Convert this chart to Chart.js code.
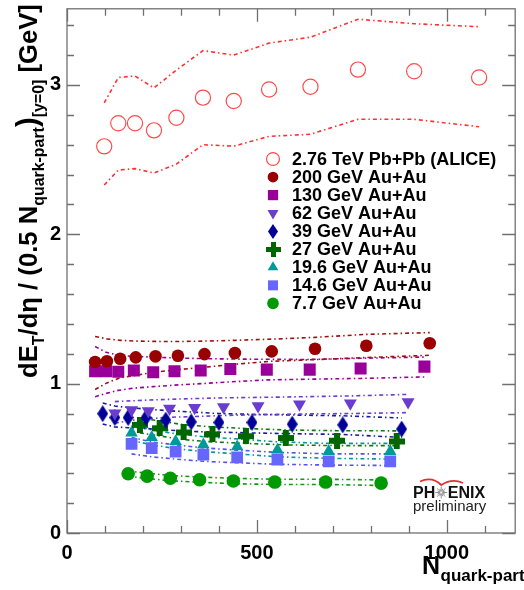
<!DOCTYPE html>
<html>
<head>
<meta charset="utf-8">
<script src="https://cdn.jsdelivr.net/npm/chart.js@4.4.1/dist/chart.umd.min.js"></script>
<style>
  html, body { margin: 0; padding: 0; background: #fff; }
  canvas { display: block; }
</style>
</head>
<body>
<canvas id="c" width="524" height="590"></canvas>
<script>
// Transverse energy per constituent-quark participant pair vs N_quark-part

// 2.76 TeV Pb+Pb (ALICE)
const aliceN  = [98, 135, 179, 229, 288, 358, 439, 532, 641, 766, 914, 1085];
const aliceE  = [2.589, 2.744, 2.744, 2.696, 2.78, 2.915, 2.893, 2.97, 2.988, 3.103, 3.092, 3.05];
const aliceHi = [2.88, 3.05, 3.06, 2.98, 3.10, 3.23, 3.20, 3.28, 3.32, 3.44, 3.41, 3.39];
const aliceLo = [2.33, 2.43, 2.44, 2.41, 2.47, 2.60, 2.59, 2.656, 2.67, 2.77, 2.77, 2.72];

// 200 GeV Au+Au
const n200  = [74, 105, 140, 181, 233, 292, 362, 442, 539, 653, 788, 955];
const e200  = [1.145, 1.15, 1.167, 1.176, 1.183, 1.187, 1.198, 1.205, 1.216, 1.234, 1.254, 1.271];
const hi200 = [1.316, 1.30, 1.29, 1.285, 1.283, 1.282, 1.285, 1.29, 1.298, 1.31, 1.33, 1.342];
const lo200 = [0.961, 1.005, 1.039, 1.056, 1.078, 1.094, 1.11, 1.13, 1.15, 1.161, 1.175, 1.19];

// 130 GeV Au+Au
const n130  = [74, 103, 135, 176, 227, 283, 352, 430, 526, 639, 773, 941];
const e130  = [1.083, 1.083, 1.079, 1.088, 1.076, 1.083, 1.088, 1.098, 1.094, 1.094, 1.101, 1.114];
const hi130 = [1.249, 1.21, 1.19, 1.182, 1.178, 1.172, 1.168, 1.165, 1.163, 1.162, 1.17, 1.178];
const lo130 = [0.912, 0.935, 0.955, 0.97, 0.98, 0.99, 1.0, 1.012, 1.025, 1.03, 1.035, 1.045];

// 62 GeV Au+Au
const n62  = [126, 170, 214, 270, 336, 412, 503, 612, 746, 898];
const e62  = [0.802, 0.824, 0.817, 0.833, 0.839, 0.844, 0.850, 0.862, 0.868, 0.877];
const hi62 = [0.88, 0.885, 0.89, 0.895, 0.90, 0.905, 0.908, 0.912, 0.918, 0.928];
const lo62 = [0.735, 0.755, 0.765, 0.775, 0.78, 0.787, 0.792, 0.797, 0.80, 0.806];

// 39 GeV Au+Au
const n39  = [94, 126, 161, 208, 260, 327, 400, 487, 593, 726, 881];
const e39  = [0.799, 0.773, 0.773, 0.773, 0.756, 0.744, 0.740, 0.740, 0.729, 0.724, 0.696];
const hi39 = [0.87, 0.85, 0.84, 0.83, 0.82, 0.81, 0.80, 0.795, 0.79, 0.785, 0.77];
const lo39 = [0.73, 0.71, 0.705, 0.70, 0.69, 0.68, 0.675, 0.67, 0.665, 0.66, 0.64];

// 27 GeV Au+Au
const n27  = [192, 244, 307, 383, 471, 576, 711, 868];
const e27  = [0.724, 0.701, 0.673, 0.660, 0.648, 0.636, 0.618, 0.613];
const hi27 = [0.77, 0.75, 0.725, 0.71, 0.70, 0.69, 0.685, 0.684];
const lo27 = [0.67, 0.65, 0.625, 0.61, 0.60, 0.59, 0.585, 0.585];

// 19.6 GeV Au+Au
const n19  = [170, 223, 286, 359, 448, 554, 689, 851];
const e19  = [0.671, 0.640, 0.613, 0.591, 0.578, 0.556, 0.547, 0.547];
const hi19 = [0.72, 0.69, 0.665, 0.645, 0.63, 0.61, 0.60, 0.60];
const lo19 = [0.62, 0.59, 0.565, 0.545, 0.53, 0.51, 0.50, 0.495];

// 14.6 GeV Au+Au
const n14  = [170, 223, 286, 359, 448, 554, 689, 851];
const e14  = [0.596, 0.569, 0.545, 0.525, 0.507, 0.492, 0.480, 0.480];
const hi14 = [0.64, 0.61, 0.59, 0.57, 0.555, 0.54, 0.53, 0.53];
const lo14 = [0.53, 0.51, 0.495, 0.48, 0.47, 0.46, 0.455, 0.452];

// 7.7 GeV Au+Au
const n7  = [161, 211, 272, 349, 438, 547, 681, 827];
const e7  = [0.397, 0.381, 0.367, 0.357, 0.348, 0.341, 0.341, 0.334];
const hi7 = [0.415, 0.40, 0.385, 0.375, 0.366, 0.36, 0.36, 0.355];
const lo7 = [0.38, 0.365, 0.35, 0.34, 0.33, 0.325, 0.325, 0.318];

// Axis tick labels
const xTickValues = [0, 500, 1000];
const yTickValues = [0, 1, 2, 3];

const FONT = '"Liberation Sans", Arial, Helvetica, sans-serif';

// Marker images for the thick plus and the tall diamond
function plusImage(color, size, bar) {
  const c = document.createElement('canvas');
  c.width = size; c.height = size;
  const g = c.getContext('2d');
  g.fillStyle = color;
  const o = (size - bar) / 2;
  g.fillRect(o, 0, bar, size);
  g.fillRect(0, o, size, bar);
  return c;
}
function diamondImage(color, w, h) {
  const c = document.createElement('canvas');
  c.width = w; c.height = h;
  const g = c.getContext('2d');
  g.fillStyle = color;
  g.beginPath();
  g.moveTo(w / 2, 0); g.lineTo(w, h / 2); g.lineTo(w / 2, h); g.lineTo(0, h / 2);
  g.closePath(); g.fill();
  return c;
}

const series = [
  { label: '2.76 TeV Pb+Pb (ALICE)', n: aliceN, e: aliceE, hi: aliceHi, lo: aliceLo,
    color: '#ff4a4a', band: '#ff3030', style: 'circle', radius: 7.6, open: true },
  { label: '200 GeV Au+Au', n: n200, e: e200, hi: hi200, lo: lo200,
    color: '#990000', band: '#a01010', style: 'circle', radius: 6.3 },
  { label: '130 GeV Au+Au', n: n130, e: e130, hi: hi130, lo: lo130,
    color: '#990099', band: '#990099', style: 'rect', radius: 8.5 },
  { label: '62 GeV Au+Au', n: n62, e: e62, hi: hi62, lo: lo62,
    color: '#6a3ccf', band: '#6a3ccf', style: 'triangle', rotation: 180, radius: 7.5 },
  { label: '39 GeV Au+Au', n: n39, e: e39, hi: hi39, lo: lo39,
    color: '#000099', band: '#1a1aa0', style: diamondImage('#000099', 11, 17), legendStyle: diamondImage('#000099', 10, 15) },
  { label: '27 GeV Au+Au', n: n27, e: e27, hi: hi27, lo: lo27,
    color: '#006600', band: '#117711', style: plusImage('#006600', 16, 6), legendStyle: plusImage('#006600', 15, 5) },
  { label: '19.6 GeV Au+Au', n: n19, e: e19, hi: hi19, lo: lo19,
    color: '#009999', band: '#009999', style: 'triangle', rotation: 0, radius: 7.2 },
  { label: '14.6 GeV Au+Au', n: n14, e: e14, hi: hi14, lo: lo14,
    color: '#6666ff', band: '#5555ee', style: 'rect', radius: 8.3 },
  { label: '7.7 GeV Au+Au', n: n7, e: e7, hi: hi7, lo: lo7,
    color: '#009900', band: '#119911', style: 'circle', radius: 6.8 }
];

const datasets = [];
series.forEach(s => {
  const pts = s.n.map((x, i) => ({ x: x, y: s.e[i] }));
  datasets.push({
    label: s.label,
    data: pts,
    showLine: false,
    pointStyle: s.style,
    rotation: s.rotation || 0,
    pointRadius: s.radius || 8,
    backgroundColor: s.open ? 'rgba(0,0,0,0)' : s.color,
    borderColor: s.color,
    borderWidth: s.open ? 1.2 : 0,
    order: 0
  });
  [s.hi, s.lo].forEach(arr => {
    datasets.push({
      label: s.label + ' sys',
      data: s.n.map((x, i) => ({ x: x, y: arr[i] })),
      showLine: true,
      pointRadius: 0,
      borderColor: s.band,
      borderWidth: 1.6,
      borderDash: [4, 3, 1.5, 3],
      tension: 0,
      fill: false,
      order: 5
    });
  });
});

function drawLegendMarker(ctx, s, x, y) {
  const st = s.legendStyle || s.style;
  if (typeof st === 'object') {
    ctx.drawImage(st, Math.round(x - st.width / 2), Math.round(y - st.height / 2));
    return;
  }
  const r = (s.radius || 8) * 0.85;
  ctx.save();
  ctx.fillStyle = s.color;
  ctx.strokeStyle = s.color;
  ctx.lineWidth = 1.2;
  ctx.beginPath();
  if (st === 'circle') {
    ctx.arc(x, y, r, 0, Math.PI * 2);
    if (s.open) ctx.stroke(); else ctx.fill();
  } else if (st === 'rect') {
    const h = r * Math.SQRT1_2;
    ctx.fillRect(x - h, y - h, 2 * h, 2 * h);
  } else if (st === 'triangle') {
    let a = (s.rotation || 0) * Math.PI / 180;
    for (let k = 0; k < 3; k++) {
      const px = x + Math.sin(a) * r, py = y - Math.cos(a) * r;
      if (k === 0) ctx.moveTo(px, py); else ctx.lineTo(px, py);
      a += 2 * Math.PI / 3;
    }
    ctx.closePath(); ctx.fill();
  }
  ctx.restore();
}

const decorations = {
  id: 'decorations',
  afterDraw(chart) {
    const ctx = chart.ctx;
    const { left, right, top, bottom } = chart.chartArea;
    const xs = chart.scales.x, ys = chart.scales.y;

    // frame and inward ticks on all four sides
    ctx.save();
    ctx.strokeStyle = '#707070';
    ctx.lineWidth = 1.3;
    ctx.strokeRect(left, top, right - left, bottom - top);
    ctx.beginPath();
    for (let v = 0; v <= xs.max + 0.01; v += 100) {
      const px = Math.round(xs.getPixelForValue(v)) + 0.5;
      const L = (v % 500 === 0) ? 13 : 7;
      ctx.moveTo(px, bottom); ctx.lineTo(px, bottom - L);
      ctx.moveTo(px, top); ctx.lineTo(px, top + L);
    }
    for (let k = 0; k * 0.2 <= ys.max + 1e-6; k++) {
      const py = Math.round(ys.getPixelForValue(k * 0.2)) + 0.5;
      const L = (k % 5 === 0) ? 13 : 7;
      ctx.moveTo(left, py); ctx.lineTo(left + L, py);
      ctx.moveTo(right, py); ctx.lineTo(right - L, py);
    }
    ctx.stroke();
    ctx.restore();

    // legend
    ctx.save();
    ctx.font = 'bold 18px ' + FONT;
    ctx.textBaseline = 'middle';
    ctx.fillStyle = '#000';
    series.forEach((s, i) => {
      const y = 159 + i * 18.05;
      drawLegendMarker(ctx, s, 273, y);
      ctx.fillText(s.label, 292, y + 1);
    });
    ctx.restore();

    // x-axis title
    ctx.save();
    ctx.fillStyle = '#000';
    ctx.textBaseline = 'alphabetic';
    ctx.font = 'bold 25px ' + FONT;
    ctx.fillText('N', 422, 574);
    const wN = ctx.measureText('N').width;
    ctx.font = 'bold 17px ' + FONT;
    ctx.fillText('quark-part', 422 + wN + 0.5, 581);
    ctx.restore();

    // y-axis title, rotated, with subscripts
    const segs = [
      { t: 'dE', main: true },
      { t: 'T', main: false },
      { t: '/d\u03b7 / (0.5 N', main: true },
      { t: 'quark-part', main: false },
      { t: ')', main: true, paren: true },
      { t: '[y=0]', main: false },
      { t: ' [GeV]', main: true }
    ];
    const baseMain = 20, baseSub = 12.4;
    const fontFor = (sg, sc) => 'bold ' + ((sg.paren ? 23 : (sg.main ? baseMain : baseSub)) * sc).toFixed(2) + 'px ' + FONT;
    let total = 0;
    segs.forEach(sg => { ctx.font = fontFor(sg, 1); total += ctx.measureText(sg.t).width; });
    const span = 374;
    const sc = span / total;
    ctx.save();
    ctx.translate(37, 378);
    ctx.rotate(-Math.PI / 2);
    ctx.fillStyle = '#000';
    ctx.textBaseline = 'alphabetic';
    let cx = 0;
    segs.forEach(sg => {
      ctx.font = fontFor(sg, sc);
      ctx.fillText(sg.t, cx, sg.main ? 0 : 5.5 * sc);
      cx += ctx.measureText(sg.t).width;
    });
    ctx.restore();

    // PHENIX preliminary mark
    ctx.save();
    ctx.fillStyle = '#111';
    ctx.font = 'bold 16px ' + FONT;
    ctx.textBaseline = 'alphabetic';
    ctx.fillText('PH', 413, 498);
    const wPH = ctx.measureText('PH').width;
    const ox = 413 + wPH + 6, oy = 492.5;
    ctx.strokeStyle = '#8a8a8a';
    ctx.lineWidth = 0.9;
    ctx.beginPath();
    for (let k = 0; k < 16; k++) {
      const a = k * Math.PI / 8;
      const r = (k % 2 === 0) ? 6 : 4;
      ctx.moveTo(ox + Math.cos(a) * 1.2, oy + Math.sin(a) * 1.2);
      ctx.lineTo(ox + Math.cos(a) * r, oy + Math.sin(a) * r);
    }
    ctx.stroke();
    ctx.fillText('ENIX', ox + 6.5, 498);
    ctx.strokeStyle = '#e03030';
    ctx.lineWidth = 1.8;
    ctx.beginPath();
    ctx.moveTo(420, 481.5);
    ctx.quadraticCurveTo(432, 476, ox, 485);
    ctx.quadraticCurveTo(452, 478, 463, 483);
    ctx.stroke();
    ctx.fillStyle = '#222';
    ctx.font = '15px ' + FONT;
    ctx.fillText('preliminary', 413, 511);
    ctx.restore();
  }
};

new Chart(document.getElementById('c'), {
  type: 'scatter',
  data: { datasets: datasets },
  options: {
    responsive: false,
    animation: false,
    devicePixelRatio: 1,
    layout: { padding: { left: 0, top: 5, right: 6, bottom: 0 } },
    plugins: { legend: { display: false }, tooltip: { enabled: false } },
    scales: {
      x: {
        type: 'linear', min: 0, max: 1180,
        grid: { display: false, drawTicks: false },
        border: { display: false },
        afterBuildTicks: s => { s.ticks = xTickValues.map(v => ({ value: v })); },
        afterFit: s => { s.height = 57; s.paddingLeft = 0; s.paddingRight = 0; },
        ticks: { color: '#000', padding: 8, maxRotation: 0, callback: v => String(v),
                 font: { family: FONT, size: 20, weight: 'bold' } }
      },
      y: {
        type: 'linear', min: 0, max: 3.51,
        grid: { display: false, drawTicks: false },
        border: { display: false },
        afterBuildTicks: s => { s.ticks = yTickValues.map(v => ({ value: v })); },
        afterFit: s => { s.width = 67; s.paddingTop = 0; s.paddingBottom = 0; },
        ticks: { color: '#000', padding: 6, callback: v => String(v),
                 font: { family: FONT, size: 20, weight: 'bold' } }
      }
    }
  },
  plugins: [decorations]
});
</script>
</body>
</html>
